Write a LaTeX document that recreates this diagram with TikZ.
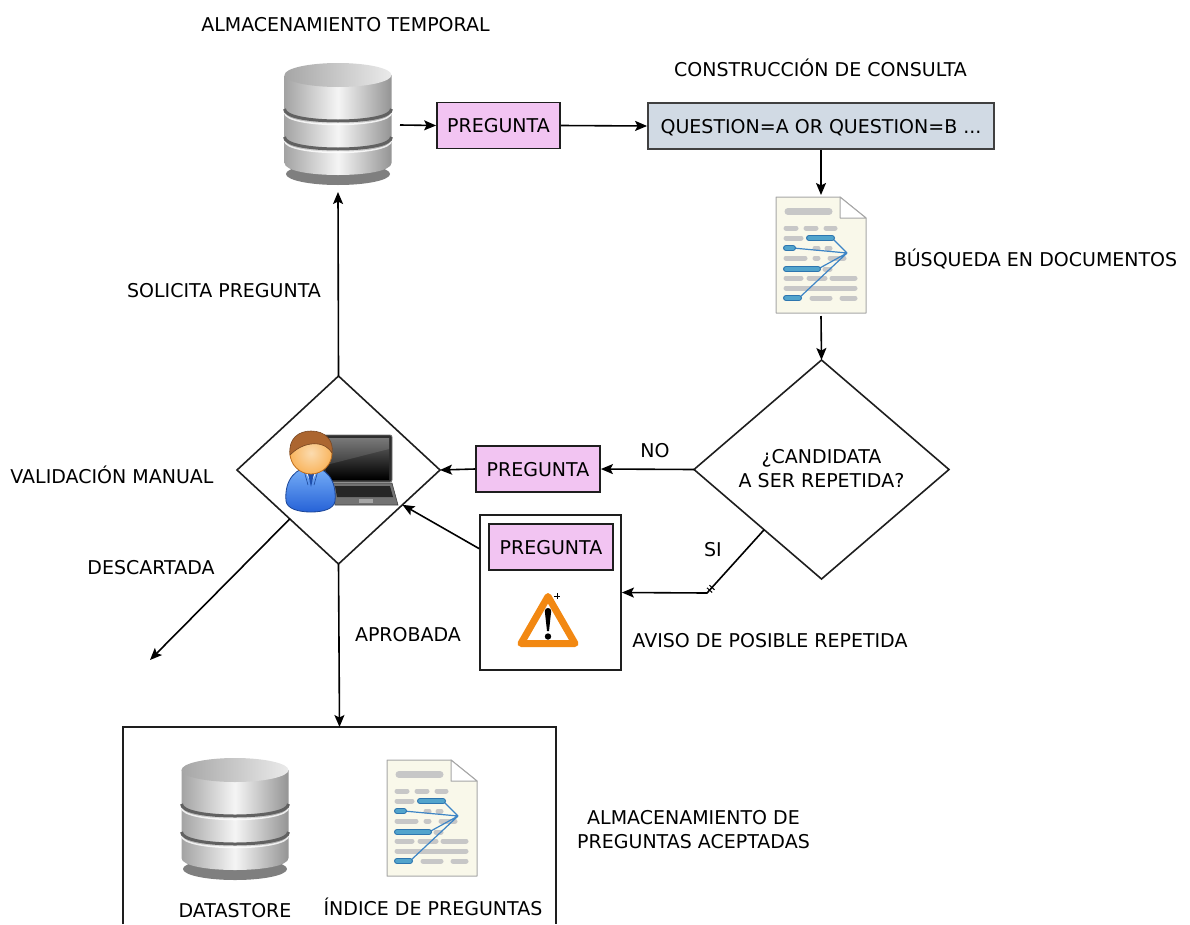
\documentclass[tikz,border=0pt]{standalone}
\usepackage{fontspec}
\setmainfont{DejaVu Sans}
\usetikzlibrary{arrows.meta,shapes.geometric,calc}

\definecolor{askpink}{RGB}{242,196,242}
\definecolor{queryblue}{RGB}{209,218,228}
\definecolor{edgegray}{RGB}{30,30,30}
\definecolor{paper}{RGB}{249,248,234}
\definecolor{barblue}{RGB}{82,164,204}
\definecolor{barblueedge}{RGB}{45,118,175}
\definecolor{linkblue}{RGB}{61,133,198}
\definecolor{skin}{RGB}{248,190,110}
\definecolor{skinedge}{RGB}{190,110,30}
\definecolor{hair}{RGB}{172,102,48}
\definecolor{suitlight}{RGB}{120,176,248}
\definecolor{suitdark}{RGB}{38,98,215}
\definecolor{warnorange}{RGB}{242,136,18}

\tikzset{
  lbl/.style={inner sep=0pt, align=center},
  oneline/.style={text height=14pt, text depth=0pt},
  boxline/.style={draw=edgegray, line width=1.8pt},
  askbox/.style={boxline, fill=askpink, minimum width=123pt, minimum height=46pt, inner sep=0pt, oneline},
  querybox/.style={boxline, fill=queryblue, draw=black!75, minimum width=346pt, minimum height=46pt, inner sep=0pt, oneline},
  iconbox/.style={inner sep=0pt, outer sep=0pt},
  decision/.style={diamond, draw=edgegray, line width=1.6pt, inner sep=0pt, outer sep=0pt},
  arr/.style={draw=black, line width=1.6pt, -{Stealth[length=12pt,width=10pt,inset=2.5pt]}},
  tick/.style={draw=black, line width=1pt, sloped, minimum width=0pt, minimum height=7pt, inner sep=0pt, outer sep=0pt},
  % cylinder storage icon, origin at the centre of the top ellipse
  database/.pic={
    \fill[black, opacity=.5] (0,99) ellipse[x radius=52, y radius=11];
    \shade[left color=black!36, right color=black!42, middle color=black!4]
      (-53.5,0) -- (-53.5,88) .. controls (-53.5,104) and (53.5,104) .. (53.5,88) -- (53.5,0) -- cycle;
    \foreach \g in {34,62}{
      \draw[white, opacity=.8, line width=1.5]
        (-53.5,\g+3.5) .. controls (-53.5,\g+19.5) and (53.5,\g+19.5) .. (53.5,\g+3.5);
      \draw[black!62, line width=3]
        (-53.5,\g) .. controls (-53.5,\g+16) and (53.5,\g+16) .. (53.5,\g);
    }
    \shade[left color=black!35, right color=black!8] (0,0) ellipse[x radius=53.5, y radius=12];
  },
  % text page icon, origin at the top-left corner of the sheet
  docpage/.pic={
    \filldraw[fill=paper, draw=black!35, line width=1pt, line join=round]
      (0,0) -- (64,0) -- (90,21) -- (90,116) -- (0,116) -- cycle;
    \filldraw[fill=white, draw=black!35, line width=1pt, line join=round]
      (64,0) -- (64,21) -- (90,21) -- cycle;
    \draw[black!22, line width=7, line cap=round] (12,14.5) -- (53,14.5);
    \begin{scope}[black!22, line width=5, line cap=round]
      \draw (10,31) -- (20,31) (30,31) -- (40,31) (50,31) -- (59,31);
      \draw (10,41) -- (25,41);
      \draw (39,51) -- (42,51) (51,51) -- (54,51);
      \draw (10,61) -- (29,61) (39,61) -- (42,61) (54,61) -- (68,61);
      \draw (49,72) -- (54,72);
      \draw (10,81) -- (25,81) (33,81) -- (49,81) (56,81) -- (79,81);
      \draw (10,91) -- (79,91);
      \draw (36,101) -- (54,101) (66,101) -- (79,101);
    \end{scope}
    \draw[linkblue, line width=1.2pt] (71,56) -- (56,41) (71,56) -- (17,51)
      (71,56) -- (42,72) (71,56) -- (23,101);
    \foreach \a/\b/\r in {33/56/41, 10/17/51, 10/42/72, 10/23/101}{
      \draw[barblueedge, line width=6, line cap=round] (\a,\r) -- (\b,\r);
      \draw[barblue, line width=3.6, line cap=round] (\a,\r) -- (\b,\r);
    }
  },
  % notebook computer, origin at the top-left corner of the lid
  laptop/.pic={
    \filldraw[fill=black!82, draw=black!55, line width=.8pt, rounded corners=2pt] (0,0) rectangle (69,47);
    \shade[top color=black!60, bottom color=black] (3,3) rectangle (66,44);
    \fill[white, opacity=.12] (3,3) -- (66,3) -- (66,14) -- (3,30) -- cycle;
    \filldraw[fill=black!55, draw=black!75, line width=.6pt] (9,48) -- (69,48) -- (75,70) -- (12,70) -- cycle;
    \fill[black!85] (12,51) -- (67,51) -- (70,62) -- (14,62) -- cycle;
    \fill[black!35] (36,64) rectangle (50,68);
  },
  % person, origin at the centre of the head
  person/.pic={
    \shadedraw[top color=suitlight, bottom color=suitdark, draw=suitdark!70!black, line width=.8pt]
      (-25,48) .. controls (-27,26) and (-14,14) .. (0,14) .. controls (14,14) and (26,26) .. (24,48)
      .. controls (23,56) and (12,59) .. (0,59) .. controls (-12,59) and (-24,56) .. cycle;
    \fill[white!90!suitlight] (-8,14) -- (0,30) -- (8,14) -- cycle;
    \fill[suitdark!80!black] (0,17) -- (-3,21) -- (0,34) -- (3,21) -- cycle;
    \draw[suitdark!70!black, line width=.6pt] (-8,14) -- (-3,32) (8,14) -- (3,32);
    \shadedraw[inner color=skin!55!white, outer color=skin!85!orange, draw=skinedge, line width=.8pt]
      (0,0) circle[radius=21];
    \filldraw[fill=hair, draw=hair!70!black, line width=.6pt]
      (-21,2) .. controls (-23,-15) and (-12,-22) .. (0,-22) .. controls (14,-22) and (23,-13) .. (21,0)
      .. controls (16,-8) and (8,-10) .. (0,-9) .. controls (-8,-8) and (-15,-4) .. cycle;
  },
  % warning sign, origin at the centre of the triangle
  warnsign/.pic={
    \filldraw[draw=warnorange, fill=white, line width=7pt, line join=round]
      (0,-23.5) -- (27,23.5) -- (-27,23.5) -- cycle;
    \fill[black] (-3.2,-9) .. controls (-3.2,-13) and (3.2,-13) .. (3.2,-9) -- (1,11) -- (-1,11) -- cycle;
    \fill[black] (0,16.5) circle[radius=3.2];
    \draw[black, line width=.8pt] (9,-27) -- (9,-21) (6,-24) -- (12,-24);
  }
}

\begin{document}
\begin{tikzpicture}[x=1pt, y=-1pt, font=\fontsize{19}{24}\selectfont]
\useasboundingbox (0,0) rectangle (1190,924);

% temporary storage and the query builder
\node[iconbox, minimum width=124pt, minimum height=134pt] (tempdb) at (338,125) {};
\pic at (338,75) {database};
\node[lbl, oneline] (temptxt) at (345.5,24) {ALMACENAMIENTO TEMPORAL};
\node[askbox] (ask1) at (498.5,125.5) {PREGUNTA};
\node[querybox] (query) at (821,126) {QUESTION=A OR QUESTION=B ...};
\node[lbl, oneline] (querytxt) at (820.5,69) {CONSTRUCCIÓN DE CONSULTA};

% document search
\node[iconbox, minimum width=90pt, minimum height=121pt] (search) at (821,255.5) {};
\pic at (776,197) {docpage};
\node[lbl, oneline] (searchtxt) at (1035.5,259) {BÚSQUEDA EN DOCUMENTOS};

% duplicate check
\node[decision, minimum width=255pt, minimum height=219pt] (cand) at (821.5,469.5) {};
\node[lbl] (candtxt) at (821.5,469) {¿CANDIDATA\\A SER REPETIDA?};
\node[askbox, minimum width=124pt] (ask2) at (538,469) {PREGUNTA};
\node[lbl, oneline] (notxt) at (655,450) {NO};
\node[lbl, oneline] (sitxt) at (713,549) {SI};

% warning of a possible duplicate
\node[boxline, minimum width=141pt, minimum height=155pt, inner sep=0pt] (warnbox) at (550.5,592.5) {};
\node[askbox, minimum width=124pt] (ask3) at (551,547) {PREGUNTA};
\pic at (548,620) {warnsign};
\node[lbl, oneline] (warntxt) at (770,640) {AVISO DE POSIBLE REPETIDA};

% manual validation
\node[decision, minimum width=203pt, minimum height=188pt] (val) at (338.5,470) {};
\pic at (323,435) {laptop};
\pic at (311,453) {person};
\node[lbl] (valtxt) at (112,475) {VALIDACIÓN MANUAL};
\node[lbl, oneline] (reqtxt) at (224,290) {SOLICITA PREGUNTA};
\node[lbl, oneline] (distxt) at (151,567) {DESCARTADA};
\node[lbl, oneline] (apptxt) at (408,634) {APROBADA};
\coordinate (discard) at (150,660);

% accepted question storage
\node[iconbox, minimum width=433pt, minimum height=197pt] (store) at (339.5,825.5) {};
\draw[boxline] (store.south west) |- (store.north east) -- (store.south east);
\pic at (235,770) {database};
\pic at (387,760) {docpage};
\node[lbl, oneline] (dstxt) at (235,910) {DATASTORE};
\node[lbl, oneline] (idxtxt) at (433,908) {ÍNDICE DE PREGUNTAS};
\node[lbl] (storetxt) at (693.5,830) {ALMACENAMIENTO DE\\PREGUNTAS ACEPTADAS};

% connectors
\coordinate (siout) at ($(cand.west)!0.55!(cand.south)$);
\coordinate (sicorner) at (707,593);
\draw[arr] (tempdb.east) -- (ask1.west);
\draw[arr] (ask1.east) -- (query.west);
\draw[arr] (query.south) -- (search.north);
\draw[arr] (search.south) -- (cand.north);
\draw[arr] (cand.west) -- (ask2.east);
\draw[arr] (ask2.west) -- (val.east);
\draw[arr] (val.north) -- (tempdb.south);
\draw[arr] (siout) -- node[tick, pos=0.913] {} node[tick, pos=0.955] {} (sicorner) -- (warnbox.east);
\draw[arr] ($(warnbox.north west)!0.22!(warnbox.south west)$) -- ($(val.east)!0.37!(val.south)$);
\draw[arr] ($(val.west)!0.52!(val.south)$) -- (discard);
\draw[arr] (val.south) -- (store.north);
\end{tikzpicture}
\end{document}
